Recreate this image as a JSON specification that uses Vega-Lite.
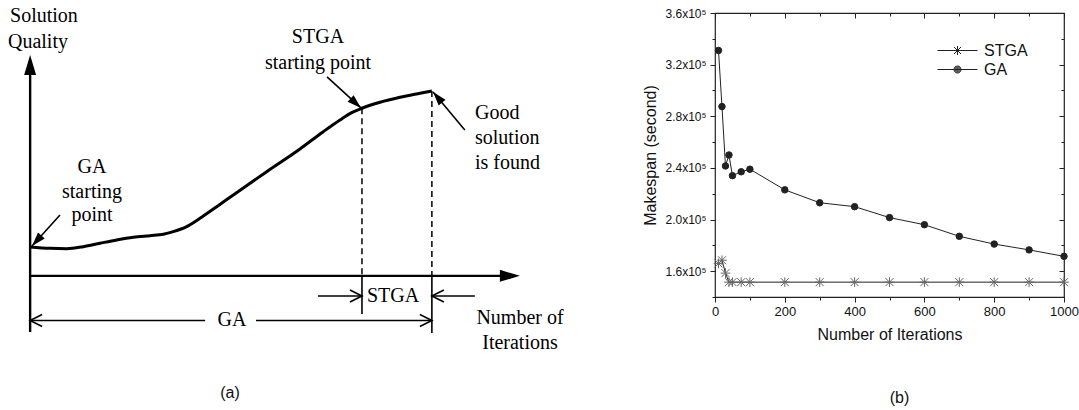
{
  "$schema": "https://vega.github.io/schema/vega-lite/v6.json",
  "background": "white",
  "padding": 0,
  "autosize": {"type": "pad"},
  "spacing": 255,
  "bounds": "flush",
  "center": true,
  "resolve": {"legend": {"shape": "independent"}},
  "config": {
    "view": {"stroke": null},
    "font": "Liberation Sans"
  },
  "datasets": {
    "quality_curve": [
      {"u": 0, "v": 15.7}, {"u": 4.94, "v": 14.96}, {"u": 9.1, "v": 14.74}, {"u": 13.23, "v": 15.82},
      {"u": 17.39, "v": 17.67}, {"u": 21.55, "v": 19.46}, {"u": 25.68, "v": 20.92}, {"u": 29.84, "v": 21.79},
      {"u": 33.15, "v": 22.54}, {"u": 35.64, "v": 23.95}, {"u": 38.97, "v": 26.66}, {"u": 42.28, "v": 31.22},
      {"u": 46.44, "v": 37.5}, {"u": 50.57, "v": 43.84}, {"u": 58.88, "v": 56.47}, {"u": 67.17, "v": 68.77},
      {"u": 72.97, "v": 78.15}, {"u": 77.13, "v": 84.49}, {"u": 80.04, "v": 88.45}, {"u": 82.6, "v": 90.83},
      {"u": 87.09, "v": 94.08}, {"u": 92.07, "v": 96.79}, {"u": 97.05, "v": 98.96}, {"u": 100, "v": 100.2}
    ],
    "strokes": [
      {"part": "axis", "u": 0, "v": -30.4, "u2": 0, "v2": 110},
      {"part": "axis", "u": 0, "v": 0, "u2": 117.4, "v2": 0},
      {"part": "guide", "u": 82.6, "v": 90.83, "u2": 82.6, "v2": 0},
      {"part": "guide", "u": 100, "v": 100.2, "u2": 100, "v2": 0},
      {"part": "thin", "u": 82.6, "v": 0, "u2": 82.6, "v2": -20.65},
      {"part": "thin", "u": 100, "v": 0, "u2": 100, "v2": -30.95},
      {"part": "thin", "u": 0, "v": -24.17, "u2": 43.55, "v2": -24.17},
      {"part": "thin", "u": 56.23, "v": -24.17, "u2": 100, "v2": -24.17},
      {"part": "thin", "u": 71.65, "v": -10.89, "u2": 82.6, "v2": -10.89},
      {"part": "thin", "u": 110.7, "v": -10.89, "u2": 100, "v2": -10.89},
      {"part": "pointer", "u": 7.43, "v": 33.0, "u2": 0.47, "v2": 16.2},
      {"part": "pointer", "u": 73.9, "v": 107.8, "u2": 82.35, "v2": 91.0},
      {"part": "pointer", "u": 108.2, "v": 79.0, "u2": 100.3, "v2": 99.7}
    ],
    "heads": [
      {"part": "axis", "u": 0, "v": 119.7, "dir": 0},
      {"part": "axis", "u": 121.9, "v": 0, "dir": 90},
      {"part": "pointer", "u": 0.47, "v": 16.2, "dir": 222},
      {"part": "pointer", "u": 82.35, "v": 91.0, "dir": 132.4},
      {"part": "pointer", "u": 100.3, "v": 99.7, "dir": 319.9},
      {"part": "open", "u": 0, "v": -24.17, "dir": 270},
      {"part": "open", "u": 100, "v": -24.17, "dir": 90},
      {"part": "open", "u": 82.6, "v": -10.89, "dir": 90},
      {"part": "open", "u": 100, "v": -10.89, "dir": 270}
    ],
    "notes_left": [
      {"u": -5.01, "v": 140.85, "text": "Solution"},
      {"u": -5.51, "v": 126.76, "text": "Quality"},
      {"u": 110.73, "v": 88.28, "text": "Good"},
      {"u": 110.73, "v": 74.73, "text": "solution"},
      {"u": 110.73, "v": 61.19, "text": "is found"}
    ],
    "notes_center": [
      {"u": 15.4, "v": 59.02, "text": "GA"},
      {"u": 15.4, "v": 45.47, "text": "starting"},
      {"u": 15.4, "v": 33.0, "text": "point"},
      {"u": 71.65, "v": 129.47, "text": "STGA"},
      {"u": 71.65, "v": 115.38, "text": "starting point"},
      {"u": 90.32, "v": -10.89, "text": "STGA"},
      {"u": 50.25, "v": -24.17, "text": "GA"},
      {"u": 121.93, "v": -22.82, "text": "Number of"},
      {"u": 121.93, "v": -36.36, "text": "Iterations"}
    ],
    "makespan": [
      {"series": "GA", "iter": 10, "makespan": 331000},
      {"series": "GA", "iter": 20, "makespan": 287500},
      {"series": "GA", "iter": 30, "makespan": 241500},
      {"series": "GA", "iter": 40, "makespan": 250000},
      {"series": "GA", "iter": 50, "makespan": 234000},
      {"series": "GA", "iter": 75, "makespan": 237000},
      {"series": "GA", "iter": 100, "makespan": 239000},
      {"series": "GA", "iter": 200, "makespan": 223000},
      {"series": "GA", "iter": 300, "makespan": 213000},
      {"series": "GA", "iter": 400, "makespan": 210000},
      {"series": "GA", "iter": 500, "makespan": 201500},
      {"series": "GA", "iter": 600, "makespan": 196000},
      {"series": "GA", "iter": 700, "makespan": 187000},
      {"series": "GA", "iter": 800, "makespan": 181000},
      {"series": "GA", "iter": 900, "makespan": 176500},
      {"series": "GA", "iter": 1000, "makespan": 171500},
      {"series": "STGA", "iter": 10, "makespan": 166000},
      {"series": "STGA", "iter": 20, "makespan": 168500},
      {"series": "STGA", "iter": 30, "makespan": 158500},
      {"series": "STGA", "iter": 40, "makespan": 151500},
      {"series": "STGA", "iter": 50, "makespan": 151500},
      {"series": "STGA", "iter": 75, "makespan": 151500},
      {"series": "STGA", "iter": 100, "makespan": 151500},
      {"series": "STGA", "iter": 200, "makespan": 151500},
      {"series": "STGA", "iter": 300, "makespan": 151500},
      {"series": "STGA", "iter": 400, "makespan": 151500},
      {"series": "STGA", "iter": 500, "makespan": 151500},
      {"series": "STGA", "iter": 600, "makespan": 151500},
      {"series": "STGA", "iter": 700, "makespan": 151500},
      {"series": "STGA", "iter": 800, "makespan": 151500},
      {"series": "STGA", "iter": 900, "makespan": 151500},
      {"series": "STGA", "iter": 1000, "makespan": 151500}
    ]
  },
  "hconcat": [
    {
      "width": 460,
      "height": 310,
      "view": {"stroke": null, "fill": "white"},
      "title": {
        "text": "(a)", "orient": "bottom", "anchor": "middle", "frame": "group",
        "offset": 32, "font": "Liberation Sans", "fontSize": 16, "fontWeight": "normal", "color": "#111"
      },
      "encoding": {
        "x": {"field": "u", "type": "quantitative", "scale": {"domain": [-7.5, 107], "nice": false, "zero": false}, "axis": null},
        "y": {"field": "v", "type": "quantitative", "scale": {"domain": [-18.5, 149.5], "nice": false, "zero": false}, "axis": null}
      },
      "layer": [
        {
          "data": {"name": "quality_curve"},
          "mark": {"type": "line", "color": "#000", "strokeWidth": 3, "interpolate": "monotone"}
        },
        {
          "data": {"name": "strokes"},
          "transform": [{"filter": "datum.part === 'guide'"}],
          "mark": {"type": "rule", "color": "#000", "strokeWidth": 1.5, "strokeDash": [6, 4]},
          "encoding": {"x2": {"field": "u2"}, "y2": {"field": "v2"}}
        },
        {
          "data": {"name": "strokes"},
          "transform": [{"filter": "datum.part === 'axis'"}],
          "mark": {"type": "rule", "color": "#000", "strokeWidth": 2.4},
          "encoding": {"x2": {"field": "u2"}, "y2": {"field": "v2"}}
        },
        {
          "data": {"name": "strokes"},
          "transform": [{"filter": "datum.part === 'thin' || datum.part === 'pointer'"}],
          "mark": {"type": "rule", "color": "#000", "strokeWidth": 1.6},
          "encoding": {"x2": {"field": "u2"}, "y2": {"field": "v2"}}
        },
        {
          "data": {"name": "heads"},
          "transform": [{"filter": "datum.part === 'axis'"}],
          "mark": {"type": "point", "shape": "M0,0L0.6,2L-0.6,2Z", "size": 400, "filled": true, "color": "#000", "opacity": 1, "strokeWidth": 0},
          "encoding": {"angle": {"field": "dir", "type": "quantitative", "scale": null}}
        },
        {
          "data": {"name": "heads"},
          "transform": [{"filter": "datum.part === 'pointer'"}],
          "mark": {"type": "point", "shape": "M0,0L0.64,2L-0.64,2Z", "size": 196, "filled": true, "color": "#000", "opacity": 1, "strokeWidth": 0},
          "encoding": {"angle": {"field": "dir", "type": "quantitative", "scale": null}}
        },
        {
          "data": {"name": "heads"},
          "transform": [{"filter": "datum.part === 'open'"}],
          "mark": {"type": "point", "shape": "M-1,2L0,0L1,2", "size": 144, "filled": false, "color": "#000", "opacity": 1, "strokeWidth": 1.6},
          "encoding": {"angle": {"field": "dir", "type": "quantitative", "scale": null}}
        },
        {
          "data": {"name": "notes_left"},
          "mark": {"type": "text", "align": "left", "baseline": "middle", "font": "Liberation Serif", "fontSize": 20, "color": "#000"},
          "encoding": {"text": {"field": "text"}}
        },
        {
          "data": {"name": "notes_center"},
          "mark": {"type": "text", "align": "center", "baseline": "middle", "font": "Liberation Serif", "fontSize": 20, "color": "#000"},
          "encoding": {"text": {"field": "text"}}
        }
      ]
    },
    {
      "width": 349,
      "height": 284,
      "view": {"stroke": "#222", "strokeWidth": 1.2},
      "data": {"name": "makespan"},
      "title": {
        "text": "(b)", "orient": "bottom", "anchor": "middle", "frame": "group", "dx": 10,
        "offset": 48, "font": "Liberation Sans", "fontSize": 16, "fontWeight": "normal", "color": "#111"
      },
      "layer": [
        {
          "mark": {"type": "line", "color": "#222", "strokeWidth": 1},
          "encoding": {
            "x": {
              "field": "iter", "type": "quantitative",
              "scale": {"domain": [0, 1000], "nice": false, "zero": false},
              "axis": {
                "orient": "bottom", "values": [0, 100, 200, 300, 400, 500, 600, 700, 800, 900, 1000],
                "format": "d", "labelExpr": "datum.value % 200 === 0 ? datum.label : ''",
                "tickSize": {"condition": {"test": "datum.value % 200 === 0", "value": 5}, "value": 3},
                "tickColor": "#222", "domain": false, "grid": false, "labelFlush": false, "labelOverlap": false,
                "labelFont": "Liberation Sans", "labelFontSize": 13, "labelColor": "#111", "labelPadding": 3,
                "title": "Number of Iterations", "titleFont": "Liberation Sans", "titleFontSize": 16,
                "titleFontWeight": "normal", "titleColor": "#111", "titlePadding": 8
              }
            },
            "y": {
              "field": "makespan", "type": "quantitative",
              "scale": {"domain": [140000, 360000], "nice": false, "zero": false},
              "axis": {
                "orient": "left",
                "values": [140000, 160000, 180000, 200000, 220000, 240000, 260000, 280000, 300000, 320000, 340000, 360000],
                "labelExpr": "datum.value % 40000 === 0 ? format(datum.value / 100000, '.1f') + 'x10⁵' : ''",
                "tickSize": {"condition": {"test": "datum.value % 40000 === 0", "value": 5}, "value": 3},
                "tickColor": "#222", "domain": false, "grid": false, "labelFlush": false, "labelOverlap": false,
                "labelFont": "Liberation Sans", "labelFontSize": 12, "labelColor": "#111", "labelPadding": 4,
                "title": "Makespan (second)", "titleFont": "Liberation Sans", "titleFontSize": 16,
                "titleFontWeight": "normal", "titleColor": "#111", "titlePadding": 6
              }
            },
            "detail": {"field": "series"}
          }
        },
        {
          "mark": {"type": "point", "opacity": 1, "strokeWidth": 1},
          "encoding": {
            "x": {
              "field": "iter", "type": "quantitative",
              "scale": {"domain": [0, 1000], "nice": false, "zero": false},
              "axis": {
                "orient": "top", "values": [0, 100, 200, 300, 400, 500, 600, 700, 800, 900, 1000],
                "labels": false, "title": null, "domain": false, "grid": false, "tickColor": "#222",
                "tickSize": {"condition": {"test": "datum.value % 200 === 0", "value": -5}, "value": -3}
              }
            },
            "y": {
              "field": "makespan", "type": "quantitative",
              "scale": {"domain": [140000, 360000], "nice": false, "zero": false},
              "axis": {
                "orient": "right",
                "values": [140000, 160000, 180000, 200000, 220000, 240000, 260000, 280000, 300000, 320000, 340000, 360000],
                "labels": false, "title": null, "domain": false, "grid": false, "tickColor": "#222",
                "tickSize": {"condition": {"test": "datum.value % 40000 === 0", "value": -5}, "value": -3}
              }
            },
            "shape": {
              "field": "series", "type": "nominal",
              "scale": {"domain": ["STGA", "GA"], "range": ["M-1,-1L1,1M-1,1L1,-1M0,-1.2L0,1.2M-1.2,0L1.2,0", "circle"]},
              "legend": null
            },
            "size": {"condition": {"test": "datum.series === 'GA'", "value": 42}, "value": 64},
            "fill": {"condition": {"test": "datum.series === 'GA'", "value": "#222"}, "value": "transparent"},
            "stroke": {"condition": {"test": "datum.series === 'GA'", "value": "#222"}, "value": "#666"}
          }
        },
        {
          "transform": [{"filter": "false"}],
          "mark": {"type": "point", "filled": false, "color": "#222", "strokeWidth": 1, "opacity": 1, "size": 400},
          "encoding": {
            "x": {"field": "iter", "type": "quantitative", "scale": {"domain": [0, 1000], "nice": false, "zero": false}, "axis": null},
            "y": {"field": "makespan", "type": "quantitative", "scale": {"domain": [140000, 360000], "nice": false, "zero": false}, "axis": null},
            "shape": {
              "field": "series", "type": "nominal",
              "scale": {
                "domain": ["STGA", "GA"],
                "range": [
                  "M-2,0L2,0M-0.35,-0.35L0.35,0.35M-0.35,0.35L0.35,-0.35M0,-0.45L0,0.45",
                  "M-2,0L2,0M0.35,0A0.35,0.35,0,1,1,-0.35,0A0.35,0.35,0,1,1,0.35,0M0.27,0A0.27,0.27,0,1,1,-0.27,0A0.27,0.27,0,1,1,0.27,0M0.19,0A0.19,0.19,0,1,1,-0.19,0A0.19,0.19,0,1,1,0.19,0M0.11,0A0.11,0.11,0,1,1,-0.11,0A0.11,0.11,0,1,1,0.11,0M0.04,0A0.04,0.04,0,1,1,-0.04,0A0.04,0.04,0,1,1,0.04,0"
                ]
              },
              "legend": {
                "orient": "none", "legendX": 232, "legendY": 27, "title": null, "padding": 0,
                "rowPadding": 0, "symbolSize": 400, "labelOffset": 16,
                "symbolStrokeColor": "#222", "symbolStrokeWidth": 1, "symbolOpacity": 1,
                "labelFont": "Liberation Sans", "labelFontSize": 16, "labelColor": "#111"
              }
            }
          }
        }
      ],
      "resolve": {
        "axis": {"x": "independent", "y": "independent"},
        "scale": {"shape": "independent"},
        "legend": {"shape": "independent"}
      }
    }
  ]
}
